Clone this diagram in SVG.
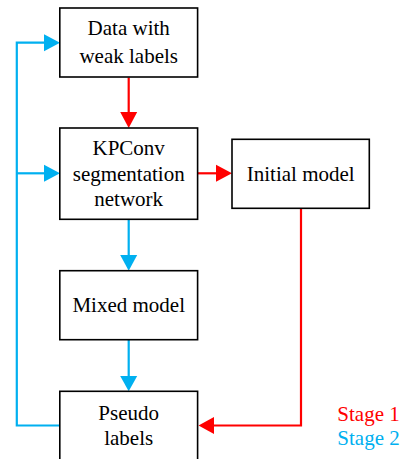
<svg xmlns="http://www.w3.org/2000/svg" width="408" height="459" viewBox="0 0 408 459">
<style>
.box{fill:#fff;stroke:#000;stroke-width:1.6}
.r{stroke:#FF0000;stroke-width:2.2;fill:none}
.b{stroke:#00B0F0;stroke-width:2.2;fill:none}
.rh{fill:#FF0000}
.bh{fill:#00B0F0}
text{font-family:"Liberation Serif","Times New Roman",Times,serif !important;font-size:21px}
.t{text-anchor:middle;fill:#000}
</style>
<rect width="408" height="459" fill="#fff"/>
<g id="connectors">
<path class="r" d="M128.7,77.5 V113"/>
<path class="rh" d="M120.2,112 L137.2,112 L128.7,128 Z"/>
<path class="r" d="M197.7,173.3 H217"/>
<path class="rh" d="M216,164.8 L216,181.8 L232,173.3 Z"/>
<path class="r" d="M301,208.5 V425.5 H213"/>
<path class="rh" d="M214,417 L214,434 L198.5,425.5 Z"/>
<path class="b" d="M128.7,219.5 V256"/>
<path class="bh" d="M120.2,255 L137.2,255 L128.7,270.7 Z"/>
<path class="b" d="M128.7,340 V377"/>
<path class="bh" d="M120.2,376 L137.2,376 L128.7,391.3 Z"/>
<path class="b" d="M60,425.5 H16.8 V42.7 H45"/>
<path class="bh" d="M44,34.2 L44,51.2 L60,42.7 Z"/>
<path class="b" d="M16.8,173.3 H45"/>
<path class="bh" d="M44,164.8 L44,181.8 L60,173.3 Z"/>
</g>
<g id="data">
<rect class="box" x="59.8" y="8" width="137.8" height="69"/>
<text class="t" style="font-family:'Liberation Serif','Times New Roman',serif !important" x="128.7" y="35.3">Data with</text>
<text class="t" style="font-family:'Liberation Serif','Times New Roman',serif !important" x="128.7" y="63.3">weak labels</text>
</g>
<g id="kpconv">
<rect class="box" x="59.8" y="128" width="137.8" height="91.3"/>
<text class="t" style="font-family:'Liberation Serif','Times New Roman',serif !important" x="128.7" y="155">KPConv</text>
<text class="t" style="font-family:'Liberation Serif','Times New Roman',serif !important" x="128.7" y="180.7">segmentation</text>
<text class="t" style="font-family:'Liberation Serif','Times New Roman',serif !important" x="128.7" y="205.7">network</text>
</g>
<g id="initial">
<rect class="box" x="232" y="139.3" width="137.3" height="69"/>
<text class="t" style="font-family:'Liberation Serif','Times New Roman',serif !important" x="300.7" y="181">Initial model</text>
</g>
<g id="mixed">
<rect class="box" x="59.8" y="270.7" width="137.8" height="69"/>
<text class="t" style="font-family:'Liberation Serif','Times New Roman',serif !important" x="128.7" y="312">Mixed model</text>
</g>
<g id="pseudo">
<rect class="box" x="59.8" y="391.3" width="137.8" height="80"/>
<text class="t" style="font-family:'Liberation Serif','Times New Roman',serif !important" x="128.7" y="420">Pseudo</text>
<text class="t" style="font-family:'Liberation Serif','Times New Roman',serif !important" x="128.7" y="445">labels</text>
</g>
<g id="legend">
<text style="font-family:'Liberation Serif','Times New Roman',serif !important" x="337.3" y="420.5" fill="#FF0000">Stage 1</text>
<text style="font-family:'Liberation Serif','Times New Roman',serif !important" x="337.3" y="445" fill="#00B0F0">Stage 2</text>
</g>
</svg>
